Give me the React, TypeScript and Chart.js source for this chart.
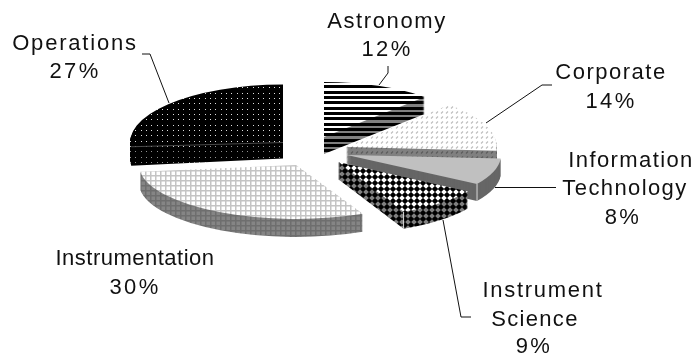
import { useEffect, useRef } from "react";
import { Chart, registerables } from "chart.js";

Chart.register(...registerables);

// Budget share per department, clockwise from twelve o'clock.
const categories = ["Astronomy", "Corporate", "Information Technology", "Instrument Science", "Instrumentation", "Operations"];
const shares = [12, 14, 8, 9, 30, 27];

// How each wedge sits on the page once exploded and tilted.
const wedgeCx = [324, 346, 347, 338, 296, 283];
const wedgeCy = [137, 147, 155, 162, 165, 142.5];
const wedgeRx = [147, 151, 154, 154, 157, 153];
const wedgeRy = [55, 58, 54, 55, 54, 58];
const wedgeDepth = [17, 17, 17, 17, 18, 16];
const drawOrder = [0, 1, 5, 4, 2, 3];

const BASE_RADIUS = 150;
const FONT = '22px "Liberation Sans", Arial, sans-serif';
const PERCENT_TRACKING = 2.4;

type Painter = (c: CanvasRenderingContext2D) => void;

function tile(w: number, h: number, paint: Painter): CanvasPattern {
  const off = document.createElement("canvas");
  off.width = w;
  off.height = h;
  const c = off.getContext("2d")!;
  paint(c);
  return c.createPattern(off, "repeat")!;
}

const dots = (bg: string, dot: string): Painter => (c) => {
  c.fillStyle = bg;
  c.fillRect(0, 0, 16, 16);
  c.fillStyle = dot;
  for (const x of [2, 7, 13]) for (const y of [2, 7, 13]) c.fillRect(x, y, 1, 1);
};

const grid = (bg: string, line: string): Painter => (c) => {
  c.fillStyle = bg;
  c.fillRect(0, 0, 5, 5);
  c.fillStyle = line;
  c.fillRect(0, 0, 1.5, 5);
  c.fillRect(0, 0, 5, 1.5);
};

const stripes = (bg: string, line: string): Painter => (c) => {
  c.fillStyle = bg;
  c.fillRect(0, 0, 4, 16);
  c.fillStyle = line;
  for (const y of [0, 5, 11]) c.fillRect(0, y, 4, 3);
};

const hatch = (bg: string, line: string): Painter => (c) => {
  c.fillStyle = bg;
  c.fillRect(0, 0, 5, 5);
  c.strokeStyle = line;
  c.lineWidth = 1.1;
  c.beginPath();
  c.moveTo(1, 3.5);
  c.lineTo(3, 1.5);
  c.stroke();
};

const diamonds = (bg: string, fg: string): Painter => (c) => {
  c.fillStyle = bg;
  c.fillRect(0, 0, 6, 6);
  c.fillStyle = fg;
  const r = 3.2;
  c.beginPath();
  c.moveTo(3 - r, 3);
  c.lineTo(3, 3 - r);
  c.lineTo(3 + r, 3);
  c.lineTo(3, 3 + r);
  c.closePath();
  c.fill();
};

type Label = { lines: string[]; tracking: number[]; x: number[]; y: number[] };

const labelPlacement: Label[] = [
  { lines: ["Astronomy"], tracking: [1.6], x: [387, 387], y: [28, 56] },
  { lines: ["Corporate"], tracking: [1.5], x: [611, 611], y: [79, 108] },
  { lines: ["Information", "Technology"], tracking: [1.4, 1.4], x: [631, 625, 623], y: [167, 195, 224] },
  { lines: ["Instrument", "Science"], tracking: [1.7, 1.3], x: [543, 535, 534], y: [297, 326, 353] },
  { lines: ["Instrumentation"], tracking: [0.5], x: [135, 135], y: [265, 294] },
  { lines: ["Operations"], tracking: [1.8], x: [75, 75], y: [50, 78] },
];

const leaderLines: number[][][] = [
  [[388, 66], [388, 73], [379, 85]],
  [[552, 85], [542, 85], [486, 123]],
  [[556, 187.5], [495, 187.5]],
  [[443, 220], [461, 317], [471, 317]],
  [[142, 54], [150, 54], [169, 103]],
];

export default function App() {
  const ref = useRef<HTMLCanvasElement>(null);

  useEffect(() => {
    const topFaces = [
      tile(4, 16, stripes("#ffffff", "#000000")),
      tile(5, 5, hatch("#ffffff", "#bcbcbc")),
      "#c0c0c0",
      tile(6, 6, diamonds("#ffffff", "#000000")),
      tile(5, 5, grid("#ffffff", "#c4c4c4")),
      tile(16, 16, dots("#000000", "#e0e0e0")),
    ];
    const sideFaces = [
      tile(4, 16, stripes("#808080", "#000000")),
      tile(5, 5, hatch("#808080", "#5a5a5a")),
      "#666666",
      tile(6, 6, diamonds("#808080", "#000000")),
      tile(5, 5, grid("#858585", "#6e6e6e")),
      tile(16, 16, dots("#000000", "#909090")),
    ];

    const plainOptions = (fill: unknown) => ({
      backgroundColor: fill,
      borderColor: "transparent",
      borderWidth: 0,
      borderAlign: "center",
      borderRadius: 0,
      circular: true,
      offset: 0,
      spacing: 0,
    });

    const paintWedge = (ctx: CanvasRenderingContext2D, arc: any, i: number, dy: number, fill: unknown) => {
      ctx.save();
      ctx.translate(wedgeCx[i], wedgeCy[i] + dy);
      ctx.scale(wedgeRx[i] / BASE_RADIUS, wedgeRy[i] / BASE_RADIUS);
      ctx.translate(-arc.x, -arc.y);
      if (fill instanceof CanvasPattern) fill.setTransform(ctx.getTransform().inverse());
      const saved = arc.options;
      arc.options = plainOptions(fill);
      arc.draw(ctx);
      arc.options = saved;
      ctx.restore();
    };

    const rimPoint = (arc: any, i: number, angle: number) => [
      wedgeCx[i] + Math.cos(angle) * wedgeRx[i],
      wedgeCy[i] + Math.sin(angle) * wedgeRy[i],
    ];

    const tiltedPie = {
      id: "tiltedPie",
      beforeDatasetDraw(chart: Chart) {
        const ctx = chart.ctx;
        const arcs = chart.getDatasetMeta(0).data as any[];
        for (const i of drawOrder) {
          for (let d = wedgeDepth[i]; d >= 1; d--) paintWedge(ctx, arcs[i], i, d, sideFaces[i]);
          paintWedge(ctx, arcs[i], i, 0, topFaces[i]);

          ctx.save();
          ctx.lineWidth = 1;
          if (i === 2 || i === 3) {
            // Pale highlight down the front corner of the wedge.
            const [x, y] = rimPoint(arcs[i], i, arcs[i].endAngle);
            ctx.strokeStyle = "#d8d8d8";
            ctx.beginPath();
            ctx.moveTo(x, y);
            ctx.lineTo(x, y + wedgeDepth[i]);
            ctx.stroke();
          }
          if (i === 5) {
            // Fold between the top face and the cut face.
            const [x, y] = rimPoint(arcs[i], i, arcs[i].startAngle);
            ctx.strokeStyle = "#4a4a4a";
            ctx.beginPath();
            ctx.moveTo(x, y - 3);
            ctx.lineTo(wedgeCx[i], wedgeCy[i]);
            ctx.stroke();
          }
          ctx.restore();
        }
        return false;
      },
      afterDraw(chart: Chart) {
        const ctx = chart.ctx;
        ctx.save();
        ctx.strokeStyle = "#111111";
        ctx.lineWidth = 1;
        for (const path of leaderLines) {
          ctx.beginPath();
          path.forEach(([x, y], k) => (k ? ctx.lineTo(x, y) : ctx.moveTo(x, y)));
          ctx.stroke();
        }
        ctx.fillStyle = "#111111";
        ctx.font = FONT;
        ctx.textAlign = "center";
        labelPlacement.forEach((label, i) => {
          [...label.lines, `${shares[i]}%`].forEach((text, k) => {
            (ctx as any).letterSpacing = `${label.tracking[k] ?? PERCENT_TRACKING}px`;
            ctx.fillText(text, label.x[k], label.y[k]);
          });
        });
        ctx.restore();
      },
    };

    const chart = new Chart(ref.current!, {
      type: "pie",
      data: {
        labels: categories,
        datasets: [{ data: shares, backgroundColor: "#000000", borderWidth: 0 }],
      },
      options: {
        responsive: false,
        animation: false,
        radius: BASE_RADIUS,
        plugins: { legend: { display: false }, tooltip: { enabled: false } },
      } as any,
      plugins: [tiltedPie as any],
    });
    return () => chart.destroy();
  }, []);

  return (
    <div style={{ position: "absolute", left: 0, top: 0, width: 696, height: 356, background: "#ffffff" }}>
      <canvas ref={ref} width={696} height={356} style={{ display: "block" }} />
    </div>
  );
}
